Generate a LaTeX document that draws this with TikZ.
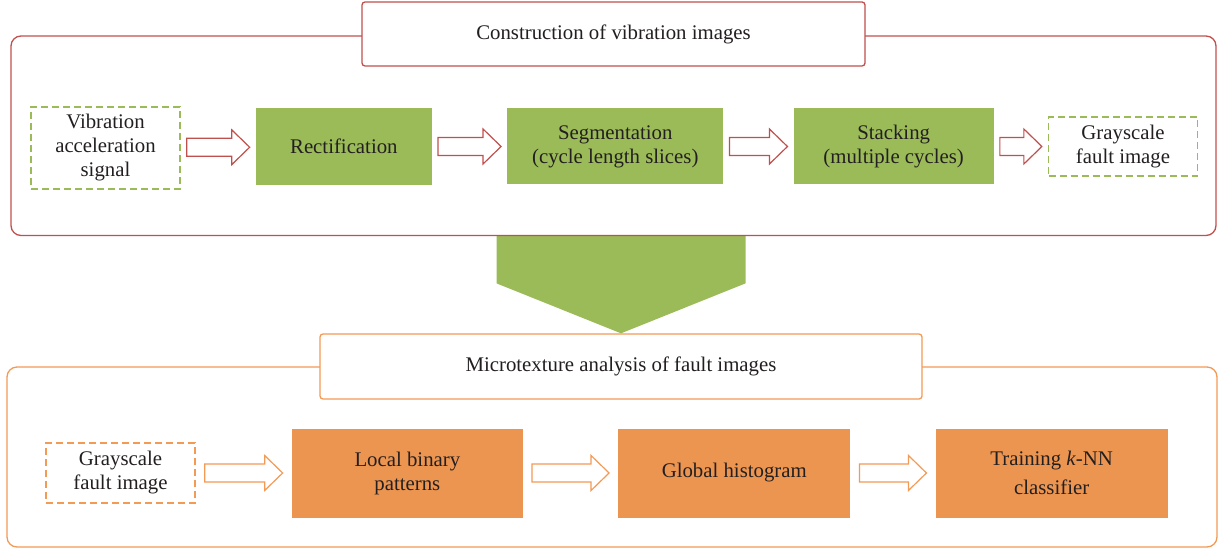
\documentclass[tikz,border=0pt]{standalone}
\usepackage{fontspec}
\setmainfont{Liberation Serif}
\usepackage{tikz}
\usetikzlibrary{calc,positioning,backgrounds}
\definecolor{leaf}{HTML}{9BBB59}
\definecolor{brick}{HTML}{C0504D}
\definecolor{amber}{HTML}{EC9550}
\definecolor{amberline}{HTML}{F39A55}
\definecolor{ink}{HTML}{231F20}
\tikzset{
  frame/.style={
    draw, rectangle, rounded corners=10pt, line width=1.3pt
  },
  title/.style={
    draw, fill=white, rectangle, rounded corners=3pt, line width=1.3pt,
    text=ink, font=\fontsize{20.8}{24}\selectfont
  },
  stage/.style={
    rectangle, align=center, inner sep=2pt, text=ink,
    font=\fontsize{20.8}{24}\selectfont
  },
  source/.style={
    stage, draw, dash pattern=on 7pt off 4pt, line width=1.3pt,
    minimum width=149pt
  },
}
\newcommand{\blockarrow}[4][6pt]{%
  \draw[draw=#2, fill=white, line width=1.2pt]
    let \p1=($(#3.east)!0.5!(#4.west)$), \p2=(#3.east), \p3=(#4.west) in
    (\x2+#1,\y1+9pt) -- (\x3-#1-18pt,\y1+9pt) -- (\x3-#1-18pt,\y1+17.5pt)
    -- (\x3-#1,\y1) -- (\x3-#1-18pt,\y1-17.5pt) -- (\x3-#1-18pt,\y1-9pt)
    -- (\x2+#1,\y1-9pt) -- cycle;}

\begin{document}
\begin{tikzpicture}[x=1pt, y=-1pt, node distance=75pt]
  \useasboundingbox (0,0) rectangle (1219,548);
  \node[frame, draw=brick, minimum width=1205pt, minimum height=199.5pt] (top) at (613.5,135.75) {};
  \node[frame, draw=amberline, minimum width=1210pt, minimum height=180pt] (bot) at (612,457) {};
  \node[title, draw=brick, minimum width=503pt, minimum height=64pt] (ttl) at (613.5,34) {Construction of vibration images};
  \node[title, draw=amberline, minimum width=602pt, minimum height=65pt] (btl) at (621,366.5) {Microtexture analysis of fault images};

  \node[source, draw=leaf, minimum height=82pt] (sig) at (105.5,148) {Vibration\\acceleration\\signal};
  \node[stage, fill=leaf, minimum width=176pt, minimum height=77pt, right=of sig, yshift=1.5pt] (rect) {Rectification};
  \node[stage, fill=leaf, minimum width=216pt, minimum height=76pt, right=of rect] (seg) {Segmentation\\(cycle length slices)};
  \node[stage, fill=leaf, minimum width=200pt, minimum height=76pt, right=70pt of seg] (stk) {Stacking\\(multiple cycles)};
  \node[source, draw=leaf, minimum height=59pt, right=54pt of stk] (img) {Grayscale\\fault image};

  \node[source, draw=amberline, minimum height=60pt] (gimg) at (120.5,473) {Grayscale\\fault image};
  \node[stage, fill=amber, minimum width=231pt, minimum height=89pt, right=96pt of gimg] (lbp) {Local binary\\patterns};
  \node[stage, fill=amber, minimum width=232pt, minimum height=89pt, right=95pt of lbp] (hist) {Global histogram};
  \node[stage, fill=amber, minimum width=232pt, minimum height=89pt, right=85pt of hist] (knn) {Training \textit{k}-NN\\[5pt]classifier};

  \blockarrow{brick}{sig}{rect}
  \blockarrow{brick}{rect}{seg}
  \blockarrow{brick}{seg}{stk}
  \blockarrow{brick}{stk}{img}
  \blockarrow[9pt]{amberline}{gimg}{lbp}
  \blockarrow[9pt]{amberline}{lbp}{hist}
  \blockarrow[9pt]{amberline}{hist}{knn}

  \begin{scope}[on background layer]
    \fill[leaf] let \p1=(btl.north), \p2=(top.south) in
      (\x1,\y1) -- (\x1+124.5pt,\y1+50pt) -- (\x1+124.5pt,\y2)
      -- (\x1-124.5pt,\y2) -- (\x1-124.5pt,\y1+50pt) -- cycle;
  \end{scope}
\end{tikzpicture}
\end{document}
